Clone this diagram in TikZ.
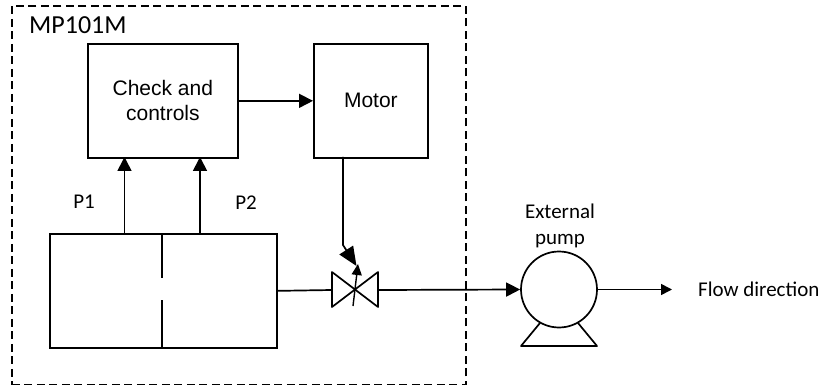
\documentclass[tikz,border=0pt]{standalone}
\usepackage{fontspec}
\setmainfont{Carlito}
\newfontfamily\arialf{Liberation Sans}
\usetikzlibrary{arrows.meta,calc}
\tikzset{
  x=1pt,y=-1pt,
  line/.style={draw=black,line width=1.7pt},
  block/.style={line,rectangle,inner sep=0pt,anchor=north west,font=\arialf\fontsize{21}{25}\selectfont,align=center},
  flow/.style={line,-{Triangle[length=14pt,width=14pt]}},
  small/.style={font=\fontsize{21}{26}\selectfont,align=center,inner sep=0pt},
}
\begin{document}
\begin{tikzpicture}
\useasboundingbox (0,0) rectangle (822,385);
\node[draw=black,line width=1.7pt,dash pattern=on 8pt off 4.5pt,rectangle,minimum width=454pt,minimum height=379pt,inner sep=0pt,anchor=north west] (frame) at (11,5) {};
\node[font=\fontsize{26}{30}\selectfont,inner sep=0pt,anchor=west] (title) at (29,25) {MP101M};
\node[block,minimum width=150pt,minimum height=114pt] (check) at (87,43) {Check and\\controls};
\node[block,minimum width=114pt,minimum height=114pt] (motor) at (313,43) {Motor};
\node[line,rectangle,inner sep=0pt,minimum width=227pt,minimum height=114pt,anchor=north west] (cell) at (49,233) {};
\coordinate (d1) at (162,233); \coordinate (d2) at (162,278);
\coordinate (d3) at (162,300); \coordinate (d4) at (162,347);
\draw[line] (d1) -- (d2) (d3) -- (d4);
\coordinate (p1s) at (124.5,233); \coordinate (p1e) at (124.5,157);
\coordinate (p2s) at (200,233); \coordinate (p2e) at (200,157);
\draw[flow] (p1s) -- (p1e);
\draw[flow] (p2s) -- (p2e);
\node[small] (p1) at (84,202) {P1};
\node[small] (p2) at (246,203) {P2};
\draw[flow] (check.east) -- (motor.west);
% valve
\coordinate (vc) at (355,290);
\coordinate (vl) at (332,290); \coordinate (vr) at (378,290);
\draw[line,line join=round] (332,272) -- (378,307) -- (378,272) -- (332,307) -- cycle;
\draw[line] (cell.east) -- (vl);
\draw[line,-{Triangle[length=11pt,width=10pt]},line width=1.4pt] (353,306) -- (358,264);
\coordinate (ms) at (343,157); \coordinate (mk) at (343,245); \coordinate (mt) at (356.5,266);
\draw[line,-{Triangle[length=19pt,width=16pt]}] (ms) -- (mk) -- (mt);
% pump
\node[line,circle,minimum size=76pt,inner sep=0pt] (pump) at (559,289.5) {};
\draw[flow] (vr) -- (pump.west);
\coordinate (out) at (672,289.5);
\draw[line,-{Triangle[length=11pt,width=11pt]}] (pump.east) -- (out);
\draw[line,line join=round] (540,323) -- (521,346) -- (597,346) -- (578,323);
\node[small] (ext) at (560,226) {External\\pump};
\node[anchor=west,inner sep=0pt,font=\fontsize{21}{25}\selectfont] (flowtxt) at (698,289) {Flow direction};
\end{tikzpicture}
\end{document}
